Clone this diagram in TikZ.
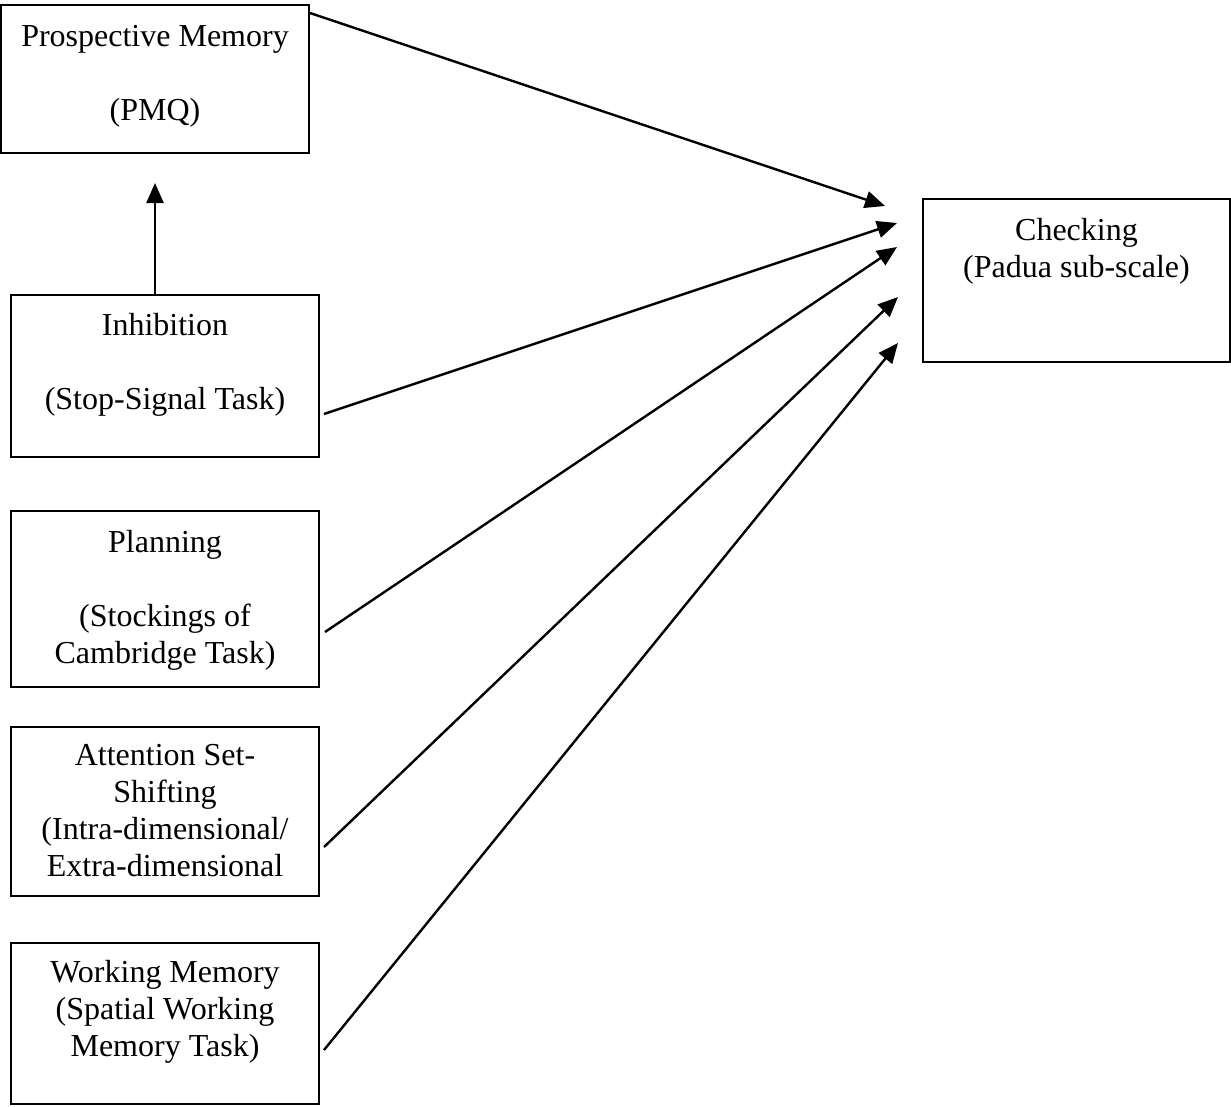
\documentclass[tikz,border=0pt]{standalone}
\usepackage{fontspec}
\setmainfont{Liberation Serif}
\usetikzlibrary{arrows.meta,calc}

\tikzset{
  box/.style={draw, line width=1.8pt, inner sep=0pt, outer sep=0pt},
  label txt/.style={inner sep=0pt, align=center, anchor=north,
    font=\fontsize{32}{37}\selectfont},
  arr/.style={line width=2.4pt, -{Triangle[length=20pt,width=17pt]}}
}
\newcommand{\topstrut}{\rule{0pt}{28pt}}

\begin{document}
\begin{tikzpicture}[x=1pt, y=-1pt]
\useasboundingbox (0,0) rectangle (1231,1106);

% boxes
\node[box, minimum width=308pt, minimum height=148pt] (pmq)  at (155,79)     {};
\node[box, minimum width=308pt, minimum height=162pt] (inh)  at (165,376)    {};
\node[box, minimum width=308pt, minimum height=176pt] (plan) at (165,599)    {};
\node[box, minimum width=308pt, minimum height=169pt] (att)  at (165,811.5)  {};
\node[box, minimum width=308pt, minimum height=161pt] (wm)   at (165,1023.5) {};
\node[box, minimum width=307pt, minimum height=163pt] (chk)  at (1076.5,280.5) {};

% box texts
\node[label txt] (pmqt) at ($(pmq.north)+(0,13)$)
  {\topstrut Prospective Memory\\[37pt] (PMQ)};
\node[label txt] (inht) at ($(inh.north)+(0,12)$)
  {\topstrut Inhibition\\[37pt] (Stop-Signal Task)};
\node[label txt] (plant) at ($(plan.north)+(0,13)$)
  {\topstrut Planning\\[37pt] (Stockings of\\ Cambridge Task)};
\node[label txt] (attt) at ($(att.north)+(0,10)$)
  {\topstrut Attention Set-\\ Shifting\\ (Intra-dimensional/\\ Extra-dimensional};
\node[label txt] (wmt) at ($(wm.north)+(0,11)$)
  {\topstrut Working Memory\\ (Spatial Working\\ Memory Task)};
\node[label txt] (chkt) at ($(chk.north)+(0,13)$)
  {\topstrut Checking\\ (Padua sub-scale)};

% connectors
\draw[arr] ($(inh.north)+(-10,0)$) -- ($(pmq.south)+(0,30)$);
\draw[arr] ($(pmq.north east)+(1,8)$)  -- ($(chk.west)+(-38,-74.5)$);
\draw[arr] ($(inh.east)+(5,38)$)       -- ($(chk.west)+(-26,-57.5)$);
\draw[arr] ($(plan.east)+(6,33)$)      -- ($(chk.west)+(-26,-33.5)$);
\draw[arr] ($(att.east)+(5,35.5)$)     -- ($(chk.west)+(-25,16.5)$);
\draw[arr] ($(wm.east)+(5,26.5)$)      -- ($(chk.west)+(-25,62.5)$);
\end{tikzpicture}
\end{document}
